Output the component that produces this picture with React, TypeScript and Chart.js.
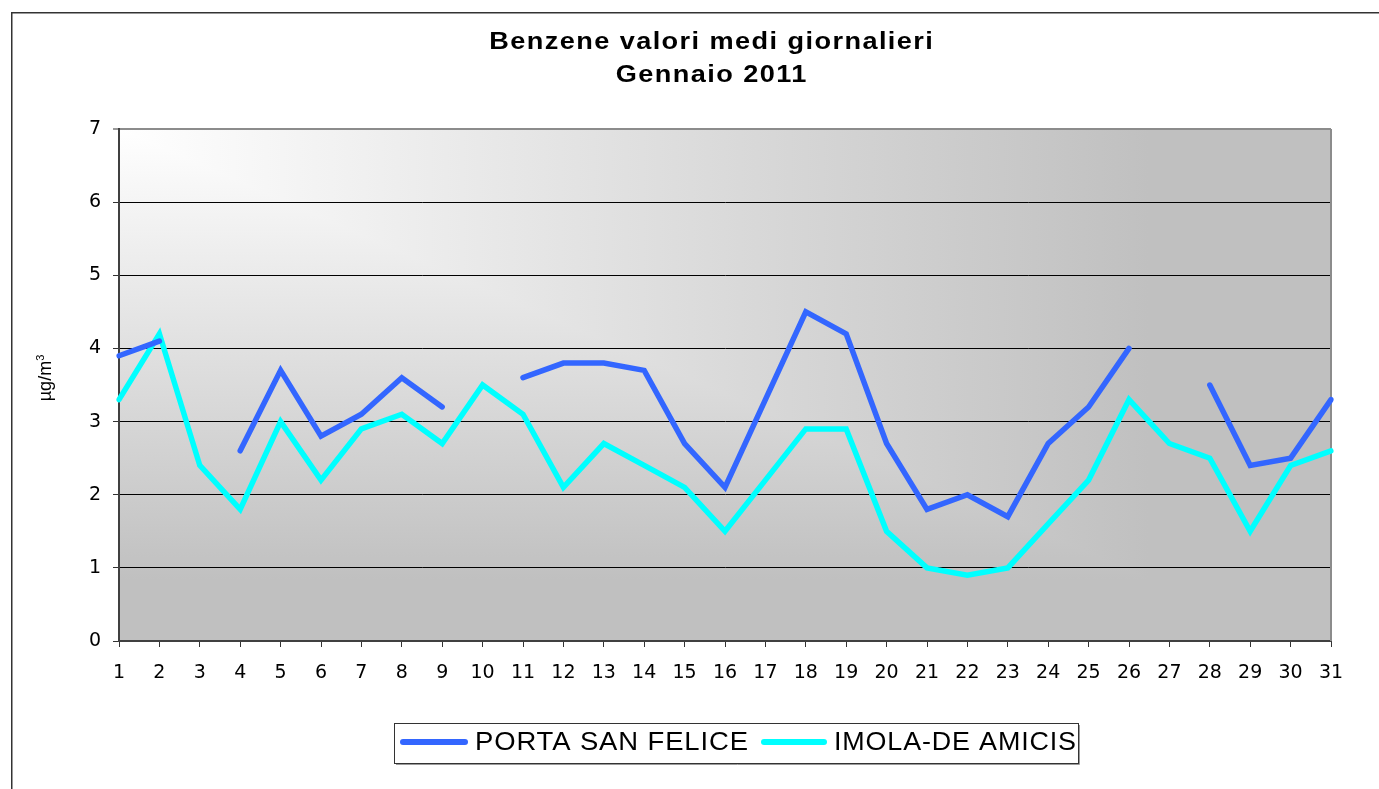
import React, { useEffect, useRef } from "react";
import { Chart, registerables } from "chart.js";

Chart.register(...registerables);

const TITLE_LINES = ["Benzene valori medi giornalieri", "Gennaio 2011"];
const Y_LABEL = "µg/m";
const Y_LABEL_SUP = "3";
const DAYS = [
  "1", "2", "3", "4", "5", "6", "7", "8", "9", "10",
  "11", "12", "13", "14", "15", "16", "17", "18", "19", "20",
  "21", "22", "23", "24", "25", "26", "27", "28", "29", "30", "31",
];
const SERIES_NAMES = ["PORTA SAN FELICE", "IMOLA-DE AMICIS"];
const PORTA_SAN_FELICE = [
  3.9, 4.1, null, 2.6, 3.7, 2.8, 3.1, 3.6, 3.2, null,
  3.6, 3.8, 3.8, 3.7, 2.7, 2.1, 3.3, 4.5, 4.2, 2.7,
  1.8, 2.0, 1.7, 2.7, 3.2, 4.0, null, 3.5, 2.4, 2.5, 3.3,
];
const IMOLA_DE_AMICIS = [
  3.3, 4.2, 2.4, 1.8, 3.0, 2.2, 2.9, 3.1, 2.7, 3.5,
  3.1, 2.1, 2.7, 2.4, 2.1, 1.5, 2.2, 2.9, 2.9, 1.5,
  1.0, 0.9, 1.0, 1.6, 2.2, 3.3, 2.7, 2.5, 1.5, 2.4, 2.6,
];
const Y_TICKS = [0, 1, 2, 3, 4, 5, 6, 7];
const COLORS = ["#3366ff", "#00ffff"];

const FONT = "'Liberation Sans', Arial, sans-serif";
const TICK_FONT = "'DejaVu Sans', 'Liberation Sans', sans-serif";

function stretchedText(ctx: any, text: string, x: number, y: number, sx: number, spacing: number, align: "left" | "center") {
  ctx.save();
  (ctx as any).letterSpacing = `${spacing}px`;
  const w = (ctx.measureText(text).width - spacing) * sx;
  const x0 = align === "center" ? x - w / 2 : x;
  ctx.translate(x0, y);
  ctx.scale(sx, 1);
  ctx.textAlign = "left";
  ctx.fillText(text, 0, 0);
  ctx.restore();
}

function fittedText(ctx: any, text: string, x: number, y: number, targetW: number, spacing: number) {
  ctx.save();
  (ctx as any).letterSpacing = `${spacing}px`;
  const w = ctx.measureText(text).width - spacing;
  const sx = targetW / w;
  ctx.translate(x, y);
  ctx.scale(sx, 1);
  ctx.textAlign = "left";
  ctx.fillText(text, 0, 0);
  ctx.restore();
}

const decorPlugin = {
  id: "decor",
  beforeDraw(chart: any) {
    const { ctx, chartArea } = chart;
    const { left, top, right, bottom } = chartArea;
    const W = right - left;
    const H = bottom - top;
    const ex = W * 0.85;
    const ey = H * 0.88;
    ctx.save();
    ctx.fillStyle = "#ffffff";
    ctx.fillRect(0, 0, chart.width, chart.height);
    // outer frame
    ctx.strokeStyle = "#333333";
    ctx.lineWidth = 1.5;
    ctx.strokeRect(11.75, 12.75, chart.width + 20, chart.height + 20);
    // plot background: rectangular gradient from the top-left corner
    ctx.beginPath();
    ctx.rect(left, top, W, H);
    ctx.clip();
    const gH = ctx.createLinearGradient(left, 0, left + ex, 0);
    gH.addColorStop(0, "#ffffff");
    gH.addColorStop(1, "#c0c0c0");
    const gV = ctx.createLinearGradient(0, top, 0, top + ey);
    gV.addColorStop(0, "#ffffff");
    gV.addColorStop(1, "#c0c0c0");
    ctx.fillStyle = gV;
    ctx.fillRect(left, top, W, H);
    ctx.beginPath();
    ctx.moveTo(left, top);
    ctx.lineTo(left + 10 * ex, top + 10 * ey);
    ctx.lineTo(left + 10 * ex, top - 1);
    ctx.lineTo(left, top - 1);
    ctx.closePath();
    ctx.clip();
    ctx.fillStyle = gH;
    ctx.fillRect(left, top, W, H);
    ctx.restore();
  },
  beforeDatasetsDraw(chart: any) {
    const { ctx, chartArea } = chart;
    ctx.save();
    ctx.strokeStyle = "#8c8c8c";
    ctx.lineWidth = 2;
    ctx.beginPath();
    ctx.moveTo(chartArea.right, chartArea.top);
    ctx.lineTo(chartArea.right, chartArea.bottom);
    ctx.stroke();
    ctx.restore();
  },
  afterDraw(chart: any) {
    const { ctx } = chart;
    ctx.save();
    ctx.textBaseline = "alphabetic";
    // title
    ctx.fillStyle = "#000000";
    ctx.font = `bold 23px ${FONT}`;
    const baselines = [49, 82];
    TITLE_LINES.forEach((t, i) => {
      stretchedText(ctx, t, 711, baselines[i], 1.18, 1.2, "center");
    });
    // y axis label
    ctx.save();
    ctx.translate(51, 378);
    ctx.rotate(-Math.PI / 2);
    ctx.font = `18px ${FONT}`;
    const mainW = ctx.measureText(Y_LABEL).width;
    ctx.font = `11px ${FONT}`;
    const supW = ctx.measureText(Y_LABEL_SUP).width;
    const total = mainW + supW;
    ctx.font = `18px ${FONT}`;
    ctx.fillText(Y_LABEL, -total / 2, 0);
    ctx.font = `11px ${FONT}`;
    ctx.fillText(Y_LABEL_SUP, -total / 2 + mainW, -7);
    ctx.restore();
    // legend
    const bx = 394.5, by = 723.5, bw = 684, bh = 40;
    ctx.fillStyle = "#ffffff";
    ctx.fillRect(bx, by, bw, bh);
    ctx.strokeStyle = "#9a9a9a";
    ctx.lineWidth = 1;
    ctx.beginPath();
    ctx.moveTo(bx + 1.5, by + bh + 1);
    ctx.lineTo(bx + bw + 1, by + bh + 1);
    ctx.lineTo(bx + bw + 1, by + 1.5);
    ctx.stroke();
    ctx.strokeStyle = "#333333";
    ctx.strokeRect(bx, by, bw, bh);
    const items = [
      { x0: 403, x1: 465, tx: 475, tw: 273 },
      { x0: 764, x1: 824, tx: 834, tw: 242 },
    ];
    ctx.font = `25px ${FONT}`;
    items.forEach((it, i) => {
      ctx.strokeStyle = COLORS[i];
      ctx.lineWidth = 6;
      ctx.lineCap = "round";
      ctx.beginPath();
      ctx.moveTo(it.x0, 742);
      ctx.lineTo(it.x1, 742);
      ctx.stroke();
      ctx.fillStyle = "#000000";
      fittedText(ctx, SERIES_NAMES[i], it.tx, 750, it.tw, 0.8);
    });
    ctx.restore();
  },
};

export default function App() {
  const ref = useRef<HTMLCanvasElement | null>(null);
  useEffect(() => {
    if (!ref.current) return;
    const chart = new Chart(ref.current, {
      type: "line",
      data: {
        labels: DAYS,
        datasets: [
          {
            label: SERIES_NAMES[0],
            data: PORTA_SAN_FELICE,
            borderColor: COLORS[0],
            backgroundColor: COLORS[0],
            borderWidth: 5.5,
            pointRadius: 0,
            tension: 0,
            spanGaps: false,
            borderCapStyle: "round",
            borderJoinStyle: "miter",
          },
          {
            label: SERIES_NAMES[1],
            data: IMOLA_DE_AMICIS,
            borderColor: COLORS[1],
            backgroundColor: COLORS[1],
            borderWidth: 5.5,
            pointRadius: 0,
            tension: 0,
            spanGaps: false,
            borderCapStyle: "round",
            borderJoinStyle: "miter",
          },
        ],
      },
      options: {
        animation: false,
        responsive: false,
        maintainAspectRatio: false,
        layout: { padding: { left: 0, top: 129, right: 48, bottom: 0 } },
        plugins: {
          legend: { display: false },
          title: { display: false },
          tooltip: { enabled: false },
        },
        scales: {
          x: {
            type: "category",
            offset: false,
            grid: {
              drawOnChartArea: false,
              drawTicks: true,
              tickLength: 6,
              tickColor: "#333333",
              tickWidth: 1,
            },
            border: { display: true, color: "#404040", width: 2 },
            ticks: {
              font: { family: TICK_FONT, size: 19 },
              color: "#000000",
              padding: 15,
              maxRotation: 0,
              autoSkip: false,
            },
            afterFit: (s: any) => {
              s.height = 148;
            },
          },
          y: {
            min: Y_TICKS[0],
            max: Y_TICKS[Y_TICKS.length - 1],
            afterBuildTicks: (s: any) => {
              s.ticks = Y_TICKS.map((v) => ({ value: v }));
            },
            grid: {
              color: (c: any) => (c.tick && c.tick.value === 7 ? "#8c8c8c" : "#000000"),
              lineWidth: (c: any) => (c.tick && c.tick.value === 7 ? 2 : 1),
              tickColor: "#333333",
              tickLength: 6,
              tickWidth: 1,
            },
            border: { display: true, color: "#404040", width: 2 },
            ticks: {
              font: { family: TICK_FONT, size: 19 },
              color: "#000000",
              padding: 12,
            },
            afterFit: (s: any) => {
              s.width = 119;
            },
          },
        },
      },
      plugins: [decorPlugin],
    });
    return () => chart.destroy();
  }, []);
  return (
    <div style={{ position: "fixed", left: 0, top: 0, width: 1379, height: 789 }}>
      <canvas ref={ref} width={1379} height={789} style={{ display: "block" }} />
    </div>
  );
}
